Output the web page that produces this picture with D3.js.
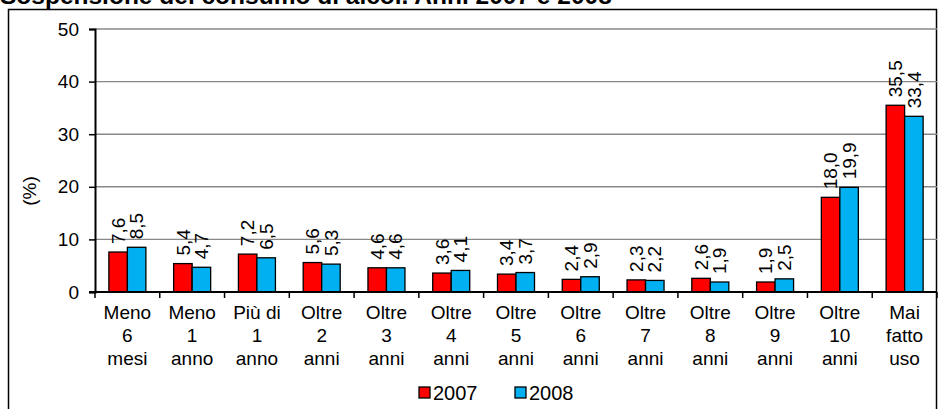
<!DOCTYPE html>
<html>
<head>
<meta charset="utf-8">
<script src="https://cdn.jsdelivr.net/npm/d3@7"></script>
<style>
  body { margin: 0; background: #fff; }
  svg { display: block; font-family: "Liberation Sans", Arial, sans-serif; }
</style>
</head>
<body>
<div id="chart"></div>
<script>
// categories (x labels, one line per entry)
var categories = [
  ["Meno", "6", "mesi"],
  ["Meno", "1", "anno"],
  ["Più di", "1", "anno"],
  ["Oltre", "2", "anni"],
  ["Oltre", "3", "anni"],
  ["Oltre", "4", "anni"],
  ["Oltre", "5", "anni"],
  ["Oltre", "6", "anni"],
  ["Oltre", "7", "anni"],
  ["Oltre", "8", "anni"],
  ["Oltre", "9", "anni"],
  ["Oltre", "10", "anni"],
  ["Mai", "fatto", "uso"]
];

var values2007 = [7.6, 5.4, 7.2, 5.6, 4.6, 3.6, 3.4, 2.4, 2.3, 2.6, 1.9, 18.0, 35.5];
var values2008 = [8.5, 4.7, 6.5, 5.3, 4.6, 4.1, 3.7, 2.9, 2.2, 1.9, 2.5, 19.9, 33.4];

var seriesNames = ["2007", "2008"];
var seriesColors = ["#ff0000", "#00b0f0"];
var yTicks = [0, 10, 20, 30, 40, 50];

var width = 940, height = 409;

var svg = d3.select("#chart").append("svg")
  .attr("width", width)
  .attr("height", height);

// title, mostly cut off at the top (as in the source picture)
svg.append("text")
  .attr("x", 0)
  .attr("y", 4)
  .attr("font-size", "24.5px")
  .attr("font-weight", "bold")
  .text("Sospensione del consumo di alcol. Anni 2007 e 2008");

// outer frame
svg.append("rect")
  .attr("x", 8.5)
  .attr("y", 9.5)
  .attr("width", 928)
  .attr("height", 420)
  .attr("fill", "none")
  .attr("stroke", "#000")
  .attr("stroke-width", 1.5);

// scales
var x0 = d3.scaleBand()
  .domain(d3.range(categories.length))
  .range([95, 937])
  .padding(0);

var x1 = d3.scaleBand()
  .domain(seriesNames)
  .range([0, x0.bandwidth()])
  .paddingInner(0)
  .paddingOuter(0.75);

var y = d3.scaleLinear()
  .domain([0, 50])
  .range([292, 29]);

// gridlines
svg.append("g")
  .selectAll("line")
  .data(yTicks.filter(function(d) { return d > 0; }))
  .enter().append("line")
  .attr("x1", 95)
  .attr("x2", 937)
  .attr("y1", function(d) { return y(d); })
  .attr("y2", function(d) { return y(d); })
  .attr("stroke", "#888")
  .attr("stroke-width", 1.4);

// y axis
var yAxis = svg.append("g")
  .attr("transform", "translate(95,0)")
  .call(d3.axisLeft(y).tickValues(yTicks).tickSize(6).tickPadding(10).tickFormat(d3.format("d")));
yAxis.select(".domain").attr("stroke-width", 2);
yAxis.selectAll(".tick line").attr("stroke-width", 1.5);
yAxis.selectAll("text").attr("font-size", "19px").attr("fill", "#000")
  .attr("font-family", "Liberation Sans, Arial, sans-serif");

svg.append("text")
  .attr("transform", "translate(29,191) rotate(-90)")
  .attr("text-anchor", "middle")
  .attr("dy", "0.35em")
  .attr("font-size", "19px")
  .text("(%)");

// bars
var rows = categories.map(function(c, i) {
  return { i: i, vals: [values2007[i], values2008[i]] };
});

var groups = svg.append("g").selectAll("g")
  .data(rows)
  .enter().append("g")
  .attr("transform", function(d) { return "translate(" + x0(d.i) + ",0)"; });

groups.selectAll("rect")
  .data(function(d) { return d.vals.map(function(v, k) { return { k: k, v: v }; }); })
  .enter().append("rect")
  .attr("x", function(d) { return x1(seriesNames[d.k]); })
  .attr("y", function(d) { return y(d.v); })
  .attr("width", x1.bandwidth())
  .attr("height", function(d) { return y(0) - y(d.v); })
  .attr("fill", function(d) { return seriesColors[d.k]; })
  .attr("stroke", "#000")
  .attr("stroke-width", 1.3);

// value labels, rotated
var fmt = function(v) { return v.toFixed(1).replace(".", ","); };
groups.selectAll("text")
  .data(function(d) { return d.vals.map(function(v, k) { return { k: k, v: v }; }); })
  .enter().append("text")
  .attr("transform", function(d) {
    var cx = x1(seriesNames[d.k]) + x1.bandwidth() / 2;
    return "translate(" + cx + "," + (y(d.v) - 8) + ") rotate(-90)";
  })
  .attr("dy", "0.35em")
  .attr("font-size", "19px")
  .text(function(d) { return fmt(d.v); });

// x axis
svg.append("line")
  .attr("x1", 89).attr("x2", 937)
  .attr("y1", y(0)).attr("y2", y(0))
  .attr("stroke", "#000").attr("stroke-width", 2);

svg.append("g").selectAll("line")
  .data(d3.range(categories.length + 1))
  .enter().append("line")
  .attr("x1", function(d) { return 95 + d * x0.step(); })
  .attr("x2", function(d) { return 95 + d * x0.step(); })
  .attr("y1", y(0))
  .attr("y2", y(0) + 6)
  .attr("stroke", "#000")
  .attr("stroke-width", 1.5);

var xl = svg.append("g").selectAll("text")
  .data(categories)
  .enter().append("text")
  .attr("text-anchor", "middle")
  .attr("font-size", "19px")
  .attr("x", function(d, i) { return x0(i) + x0.bandwidth() / 2; })
  .attr("y", 319);

xl.selectAll("tspan")
  .data(function(d) { return d; })
  .enter().append("tspan")
  .attr("x", function() { return this.parentNode.getAttribute("x"); })
  .attr("dy", function(d, k) { return k === 0 ? 0 : 23; })
  .text(function(d) { return d; });

// legend
var legendX = [419, 515];
var legend = svg.append("g").selectAll("g")
  .data(seriesNames)
  .enter().append("g")
  .attr("transform", function(d, k) { return "translate(" + legendX[k] + ",387)"; });

legend.append("rect")
  .attr("width", 11)
  .attr("height", 11)
  .attr("fill", function(d, k) { return seriesColors[k]; })
  .attr("stroke", "#000")
  .attr("stroke-width", 1.3);

legend.append("text")
  .attr("x", 14)
  .attr("y", 13)
  .attr("font-size", "20px")
  .text(function(d) { return d; });
</script>
</body>
</html>
